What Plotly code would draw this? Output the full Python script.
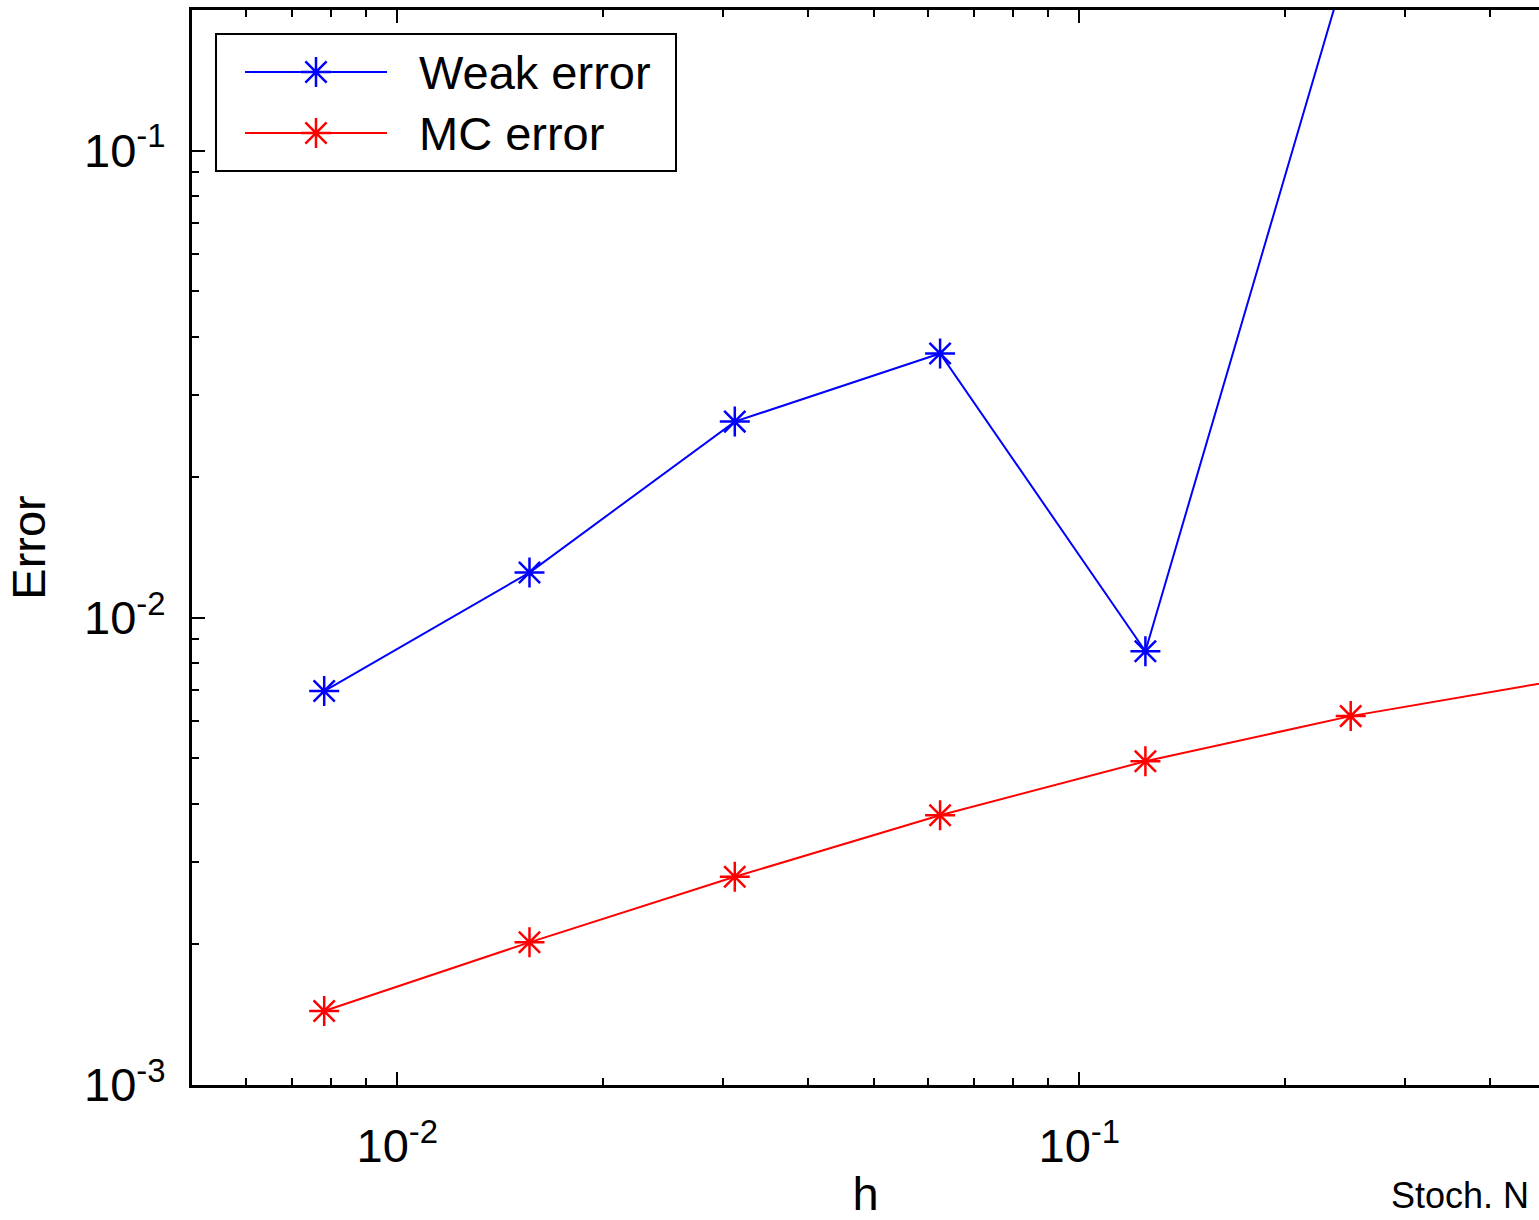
import numpy as np
import plotly.graph_objects as go

# ---------------- data ----------------
h = [1/128, 1/64, 1/32, 1/16, 1/8, 1/4, 1/2]
weak_error = [0.00697, 0.0125, 0.0263, 0.0368, 0.00848, 0.266]
mc_error = [0.00144, 0.00202, 0.00279, 0.00378, 0.00493, 0.00616, 0.00733]
series_names = ["Weak error", "MC error"]
series_colors = ["#0000ff", "#ff0000"]

y_tick_vals = [1e-3, 1e-2, 1e-1]
y_tick_text = ["10<sup>-3</sup>", "10<sup>-2</sup>", "10<sup>-1</sup>"]
x_tick_vals = [1e-2, 1e-1]
x_tick_text = ["10<sup>-2</sup>", "10<sup>-1</sup>"]
x_title = "h"
y_title = "Error"
corner_text = "Stoch. N"

# ---------------- layout geometry ----------------
W, H = 1539, 1220
L, T, B = 192, 10, 135
x_min = 0.005
px_per_decade_x = 682.0
x_range = [np.log10(x_min), np.log10(x_min) + (W - L) / px_per_decade_x]
y_range = [-3, np.log10(0.2)]

FONT = "Liberation Sans, Arial, Helvetica, sans-serif"

fig = go.Figure()

# main data traces
for name, vals, col in zip(series_names, [weak_error, mc_error], series_colors):
    fig.add_trace(go.Scatter(
        x=h[:len(vals)], y=vals, name=name, mode="lines+markers",
        line=dict(color=col, width=2),
        marker=dict(symbol="asterisk-open", size=25, color=col,
                    line=dict(color=col, width=2.5)),
        showlegend=False, cliponaxis=True,
    ))

# custom legend (drawn on a pixel-space overlay subplot)
leg_rows = [72, 133]
for name, col, ry in zip(series_names, series_colors, leg_rows):
    fig.add_trace(go.Scatter(
        x=[245, 387], y=[ry, ry], mode="lines", line=dict(color=col, width=2),
        xaxis="x2", yaxis="y2", showlegend=False, hoverinfo="skip"))
    fig.add_trace(go.Scatter(
        x=[316], y=[ry], mode="markers",
        marker=dict(symbol="asterisk-open", size=25, color=col,
                    line=dict(color=col, width=2.5)),
        xaxis="x2", yaxis="y2", showlegend=False, hoverinfo="skip"))
    fig.add_annotation(x=417, y=ry, xref="x2", yref="y2", text=name,
                       showarrow=False, xanchor="left", yanchor="middle",
                       font=dict(family=FONT, size=47, color="black"))

fig.add_shape(type="rect", xref="x2", yref="y2", x0=216, x1=676, y0=34, y1=171,
              line=dict(color="black", width=2), fillcolor="white", layer="below")

# corner text at the bottom right (sized to stay inside the picture)
fig.add_annotation(x=(1390 - L) / (W - L), y=(H - B - 1195) / (H - B - T),
                   xref="paper", yref="paper", text=corner_text, showarrow=False,
                   xanchor="left", yanchor="middle", borderpad=0,
                   font=dict(family=FONT, size=36, color="black"))

axis_common = dict(
    showgrid=False, zeroline=False, showline=True, linecolor="black", linewidth=3,
    ticks="inside", ticklen=13, tickwidth=2, tickcolor="black",
    tickfont=dict(family=FONT, size=47, color="black"),
    minor=dict(ticks="inside", ticklen=7, tickwidth=2, tickcolor="black",
               dtick="D1", showgrid=False),
)

fig.update_layout(
    width=W, height=H,
    margin=dict(l=L, r=0, t=T, b=B, pad=0),
    paper_bgcolor="white", plot_bgcolor="rgba(0,0,0,0)",
    font=dict(family=FONT, color="black"),
    showlegend=False,
    xaxis=dict(type="log", range=x_range, tickmode="array", tickvals=x_tick_vals,
               ticktext=x_tick_text, mirror="ticks", ticklabelstandoff=18,
               title=dict(text=x_title, font=dict(family=FONT, size=47), standoff=24),
               automargin=False, **axis_common),
    yaxis=dict(type="log", range=y_range, tickmode="array", tickvals=y_tick_vals,
               ticktext=y_tick_text, mirror=False, ticklabelstandoff=14,
               title=dict(text=y_title, font=dict(family=FONT, size=47), standoff=24),
               automargin=False, **axis_common),
    xaxis2=dict(domain=[0, 1], range=[L, W], visible=False, anchor="y2",
                fixedrange=True),
    yaxis2=dict(domain=[0, 1], range=[H - B, T], visible=False, anchor="x2",
                fixedrange=True),
)

fig.write_html("out.html")
